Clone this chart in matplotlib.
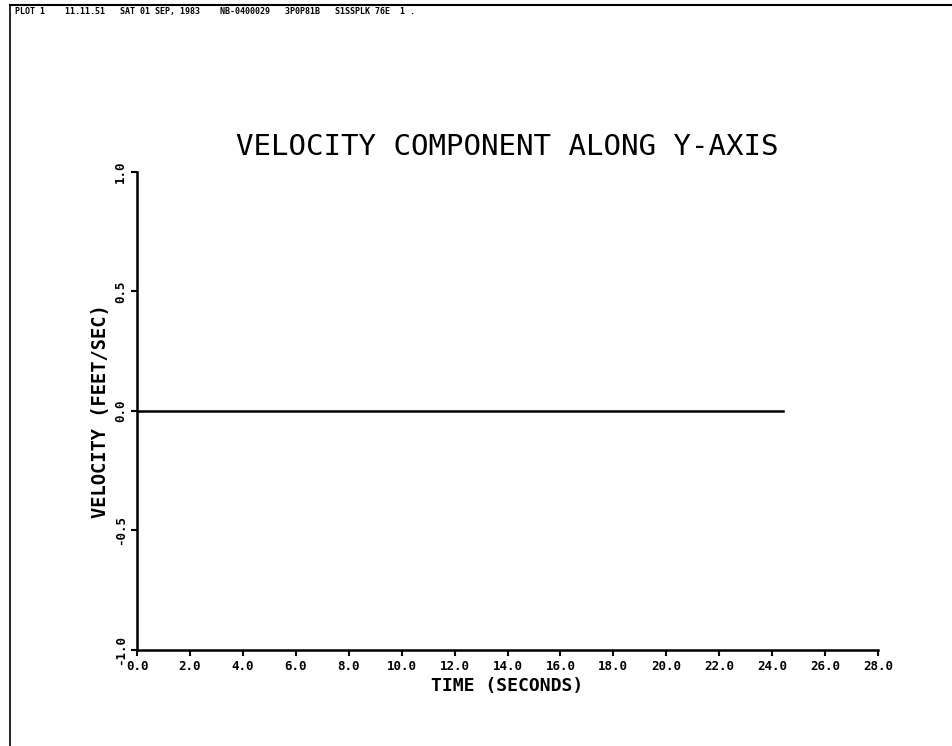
import matplotlib
matplotlib.use("Agg")
import matplotlib.pyplot as plt
from matplotlib.lines import Line2D

# data
time_s = [0.0, 24.4]
velocity_y = [0.0, 0.0]
x_ticks = [0, 2, 4, 6, 8, 10, 12, 14, 16, 18, 20, 22, 24, 26, 28]
y_ticks = [-1.0, -0.5, 0.0, 0.5, 1.0]
header = "PLOT 1    11.11.51   SAT 01 SEP, 1983    NB-0400029   3P0P81B   S1SSPLK 76E  1 ."


def main():
    plt.rcParams['font.family'] = ['DejaVu Sans Mono']
    fig = plt.figure(figsize=(9.53, 7.46), dpi=100)
    ax = fig.add_axes([0.1438, 0.1287, 0.7775, 0.6408])

    ax.plot(time_s, velocity_y, color="black", lw=1.8)

    ax.set_xlim(0, 28)
    ax.set_ylim(-1, 1)
    ax.set_xticks(x_ticks)
    ax.set_xticklabels(["%.1f" % v for v in x_ticks], fontsize=9, fontweight="bold")
    ax.set_yticks(y_ticks)
    ax.set_yticklabels(["%.1f" % v for v in y_ticks], fontsize=9, fontweight="bold",
                       rotation=90, va="center")
    ax.tick_params(axis="both", direction="out", length=4, width=1.5, pad=3)

    for s in ["top", "right"]:
        ax.spines[s].set_visible(False)
    for s in ["left", "bottom"]:
        ax.spines[s].set_linewidth(1.8)

    ax.set_title("VELOCITY COMPONENT ALONG Y-AXIS", fontsize=21, pad=12)
    ax.set_xlabel("TIME (SECONDS)", fontsize=13, fontweight="bold", labelpad=3)
    ax.set_ylabel("VELOCITY (FEET/SEC)", fontsize=13.5, fontweight="bold", labelpad=3)

    # page frame and header strip
    fig.add_artist(Line2D([0.010, 1.0], [0.993, 0.993], transform=fig.transFigure,
                          color="black", lw=1.5))
    fig.add_artist(Line2D([0.010, 0.010], [0.0, 0.993], transform=fig.transFigure,
                          color="black", lw=1.2))
    fig.text(0.016, 0.990, header, fontsize=6, fontweight="bold", va="top", ha="left")

    fig.savefig("out.png", dpi=100)


if __name__ == '__main__':
    main()
